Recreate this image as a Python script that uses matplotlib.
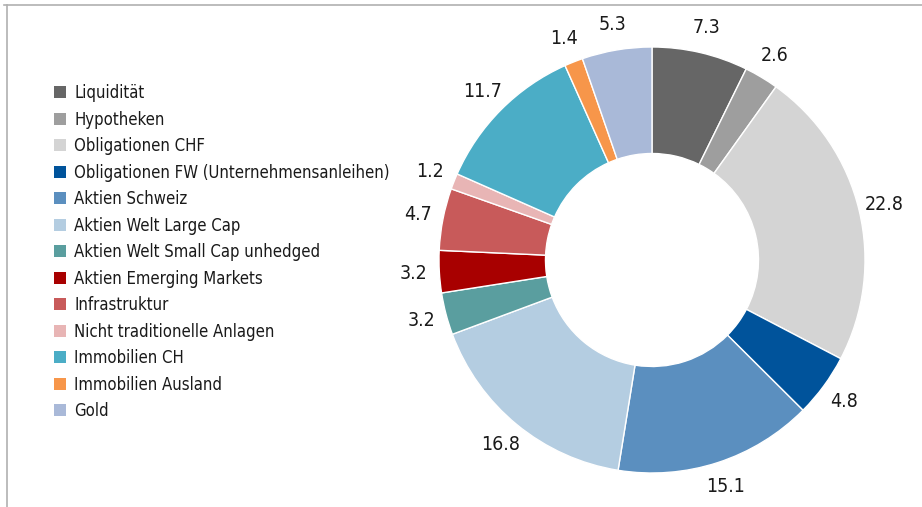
import matplotlib.pyplot as plt
from matplotlib.patches import Patch
from matplotlib.lines import Line2D

plt.rcParams['font.family'] = ['DejaVu Sans']
plt.rcParams['font.stretch'] = 'condensed'

categories = ["Liquidität", "Hypotheken", "Obligationen CHF",
              "Obligationen FW (Unternehmensanleihen)", "Aktien Schweiz",
              "Aktien Welt Large Cap", "Aktien Welt Small Cap unhedged",
              "Aktien Emerging Markets", "Infrastruktur",
              "Nicht traditionelle Anlagen", "Immobilien CH",
              "Immobilien Ausland", "Gold"]
values = [7.3, 2.6, 22.8, 4.8, 15.1, 16.8, 3.2, 3.2, 4.7, 1.2, 11.7, 1.4, 5.3]
colors = ["#666666", "#9e9e9e", "#d4d4d4", "#00539b", "#5b8fbf", "#b4cde1",
          "#5a9e9f", "#a80000", "#c85a5a", "#e8b5b5", "#4badc6", "#f7964a",
          "#a9b9d8"]

W, H = 922, 507
fig = plt.figure(figsize=(W / 100, H / 100), dpi=100)
# pie centre (652, 260) px, radius 213 px
r = 213.0
cx, cy = 652.0, H - 260.0
lx, ly = 1.2, 1.15
ax = fig.add_axes([(cx - lx * r) / W, (cy - ly * r) / H, 2 * lx * r / W, 2 * ly * r / H])

wedges, texts = ax.pie(values, colors=colors, startangle=90, counterclock=False,
                       labels=["%.1f" % v for v in values], labeldistance=1.12,
                       wedgeprops=dict(width=0.5, edgecolor="white", linewidth=1),
                       textprops=dict(fontsize=14, color="#1a1a1a"))
for t in texts:
    t.set_ha("center")
    t.set_va("center")
ax.set_xlim(-lx, lx)
ax.set_ylim(-ly, ly)
ax.set_aspect("equal")

handles = [Patch(facecolor=c, edgecolor="none") for c in colors]
fig.legend(handles, categories, loc="upper left", bbox_to_anchor=(0.059, 0.834),
           frameon=False, fontsize=12, handlelength=0.72, handleheight=0.72,
           handletextpad=0.48, labelspacing=0.51, borderaxespad=0,
           borderpad=0, labelcolor="#1a1a1a")

# partial frame: top and left lines
fig.add_artist(Line2D([0.004, 1.0], [0.991, 0.991], transform=fig.transFigure,
                      color="#b0b0b0", linewidth=1.2))
fig.add_artist(Line2D([0.0075, 0.0075], [0.0, 0.991], transform=fig.transFigure,
                      color="#b0b0b0", linewidth=1.2))

fig.savefig("out.png", dpi=100)
